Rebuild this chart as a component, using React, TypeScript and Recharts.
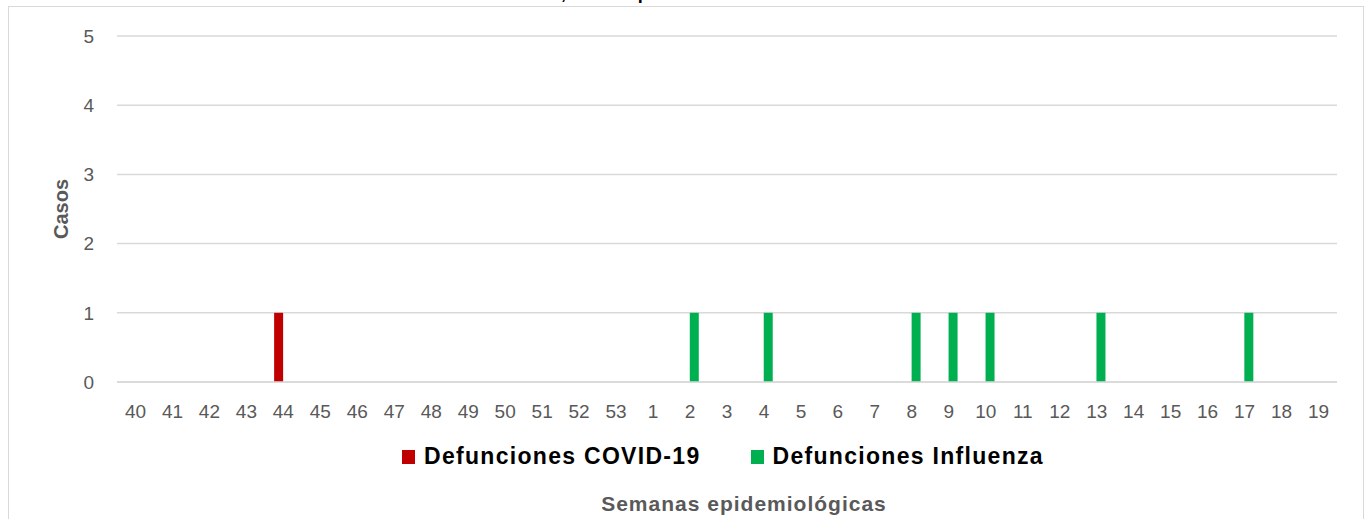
import { BarChart, Bar, XAxis, YAxis, CartesianGrid, Legend } from "recharts";

const weeks = [
  "40", "41", "42", "43", "44", "45", "46", "47", "48", "49", "50", "51", "52", "53",
  "1", "2", "3", "4", "5", "6", "7", "8", "9", "10", "11", "12", "13", "14", "15",
  "16", "17", "18", "19",
];
const covid = [0, 0, 0, 0, 1, 0, 0, 0, 0, 0, 0, 0, 0, 0, 0, 0, 0, 0, 0, 0, 0, 0, 0, 0, 0, 0, 0, 0, 0, 0, 0, 0, 0];
const influenza = [0, 0, 0, 0, 0, 0, 0, 0, 0, 0, 0, 0, 0, 0, 0, 1, 0, 1, 0, 0, 0, 1, 1, 1, 0, 0, 1, 0, 0, 0, 1, 0, 0];
const yTicks = [0, 1, 2, 3, 4, 5];

const series = [
  { key: "covid", name: "Defunciones COVID-19", color: "#C00000" },
  { key: "influenza", name: "Defunciones Influenza", color: "#00B050" },
];

const data = weeks.map((w, i) => ({ week: w, covid: covid[i], influenza: influenza[i] }));

const FONT = "'Liberation Sans', Arial, sans-serif";
const GRAY = "#595959";

function LegendBox() {
  return (
    <div style={{ display: "flex", alignItems: "center", fontFamily: FONT, whiteSpace: "nowrap" }}>
      {series.map((s, i) => (
        <div key={s.key} style={{ display: "flex", alignItems: "center", marginRight: i === 0 ? 50 : 0 }}>
          <span style={{ width: 13, height: 14, background: s.color, display: "inline-block", marginRight: 9 }} />
          <span style={{ fontSize: 23, fontWeight: 700, color: "#000", letterSpacing: 1.3 }}>{s.name}</span>
        </div>
      ))}
    </div>
  );
}

export default function App() {
  return (
    <div style={{ position: "absolute", left: 0, top: 0, width: 1371, height: 519, overflow: "hidden", background: "#fff" }}>
      {/* title sits above the frame and is mostly cut off */}
      <div
        style={{
          position: "absolute", right: 1371 - 566, top: -17, fontFamily: FONT, fontWeight: 700,
          fontSize: 18, whiteSpace: "nowrap", color: "#000",
        }}
      >
        Defunciones COVID-19 e Influenza,
      </div>
      <div
        style={{
          position: "absolute", left: 571, top: -17, fontFamily: FONT, fontWeight: 700,
          fontSize: 18, whiteSpace: "nowrap", color: "#000",
        }}
      >
        Tamaulipas 2023-2024
      </div>
      <div
        style={{
          position: "absolute", left: 8, top: 6, width: 1356, height: 540,
          border: "1.5px solid #d9d9d9", boxSizing: "border-box",
        }}
      />
      <div style={{ position: "absolute", left: 0, top: 0 }}>
        <BarChart
          width={1371}
          height={519}
          data={data}
          margin={{ top: 36, right: 34, bottom: 0, left: 0 }}
          barCategoryGap="25%"
          barGap={0}
        >
          <CartesianGrid vertical={false} stroke="#d9d9d9" strokeWidth={1.5} />
          <XAxis
            dataKey="week"
            height={137}
            interval={0}
            tickLine={false}
            tickSize={0}
            tickMargin={23}
            axisLine={{ stroke: "#d9d9d9", strokeWidth: 1.5 }}
            tick={{ fill: GRAY, fontSize: 19, fontFamily: FONT }}
            label={{
              value: "Semanas epidemiológicas",
              position: "insideBottom",
              offset: 8,
              dx: 17,
              style: { fill: GRAY, fontSize: 21, fontWeight: 700, fontFamily: FONT, letterSpacing: 1 },
            }}
          />
          <YAxis
            width={117}
            domain={[0, 5]}
            ticks={yTicks}
            interval={0}
            tickLine={false}
            axisLine={false}
            tickSize={0}
            tickMargin={23}
            tick={{ fill: GRAY, fontSize: 19, fontFamily: FONT }}
            label={{
              value: "Casos",
              angle: -90,
              position: "center",
              dx: 2,
              style: { fill: GRAY, fontSize: 20, fontWeight: 700, fontFamily: FONT, textAnchor: "middle" },
            }}
          />
          <Legend
            layout="horizontal"
            verticalAlign="middle"
            align="center"
            content={() => <LegendBox />}
            wrapperStyle={{ top: 443, left: 402, width: "auto", height: "auto" }}
          />
          {series.map((s) => (
            <Bar key={s.key} dataKey={s.key} name={s.name} fill={s.color} isAnimationActive={false} />
          ))}
        </BarChart>
      </div>
    </div>
  );
}
